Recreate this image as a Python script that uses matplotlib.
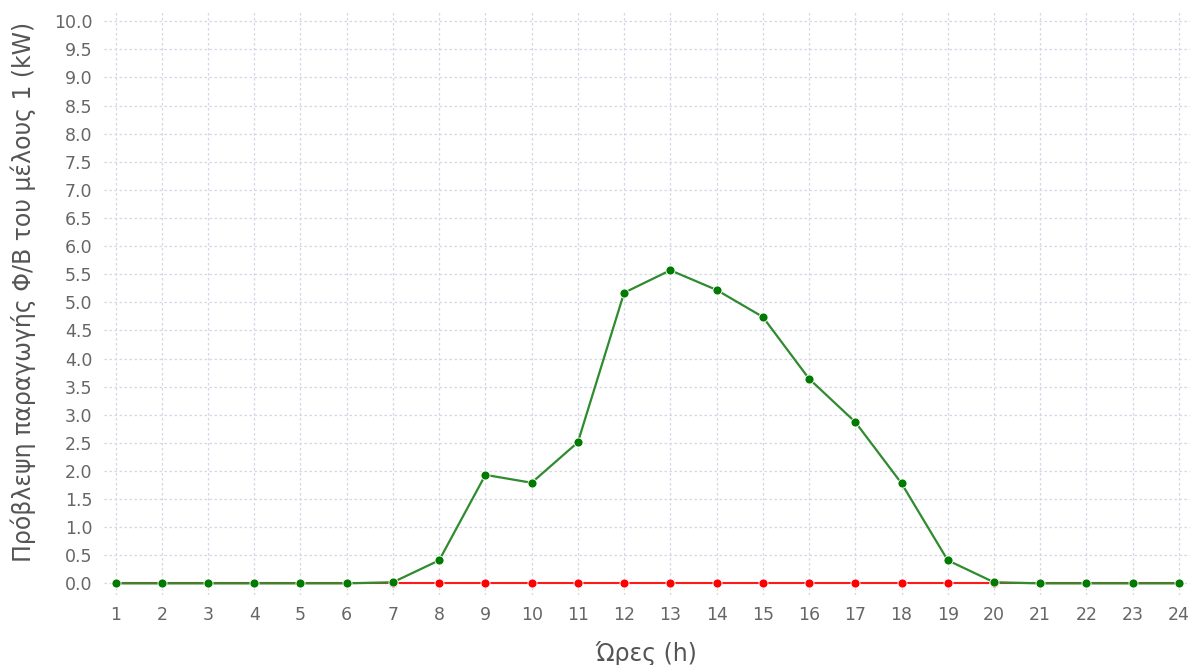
import matplotlib.pyplot as plt

# Ώρες της ημέρας
hours = list(range(1, 25))

# Πρόβλεψη παραγωγής Φ/Β (kW)
pv_forecast = [0, 0, 0, 0, 0, 0, 0.02, 0.41, 1.93, 1.79, 2.51, 5.17,
               5.57, 5.22, 4.74, 3.64, 2.87, 1.78, 0.41, 0.02, 0, 0, 0, 0]
# Δεύτερη σειρά (μηδενική)
zero_series = [0] * 24

fig = plt.figure(figsize=(11.9, 6.65), dpi=100)
ax = fig.add_axes([0.087, 0.105, 0.913, 0.88])

ax.plot(hours, zero_series, color="#ff1a1a", lw=1.5, marker="o", ms=6.5,
        markerfacecolor="#ff0000", markeredgecolor="white", markeredgewidth=0.6)
ax.plot(hours, pv_forecast, color="#2e8b2e", lw=1.6, marker="o", ms=6.5,
        markerfacecolor="#007a00", markeredgecolor="white", markeredgewidth=0.6)

ax.set_xlim(0.74, 24.24)
ax.set_ylim(-0.21, 10.2)
ax.set_xticks(hours)
ax.set_yticks([i * 0.5 for i in range(21)])
ax.set_yticklabels([f"{i * 0.5:.1f}" for i in range(21)])

ax.grid(True, color="#d6d6e6", linestyle=(0, (2, 2)), linewidth=0.9)
ax.set_axisbelow(True)
for s in ax.spines.values():
    s.set_visible(False)
ax.tick_params(length=0, labelsize=12.5, colors="#666666", pad=8)

ax.set_xlabel("Ώρες (h)", fontsize=17, color="#555555", labelpad=12)
ax.set_ylabel("Πρόβλεψη παραγωγής Φ/Β του μέλους 1 (kW)", fontsize=17,
              color="#555555")
ax.yaxis.set_label_coords(-0.062, 0.518)

fig.savefig("out.png", dpi=100)
